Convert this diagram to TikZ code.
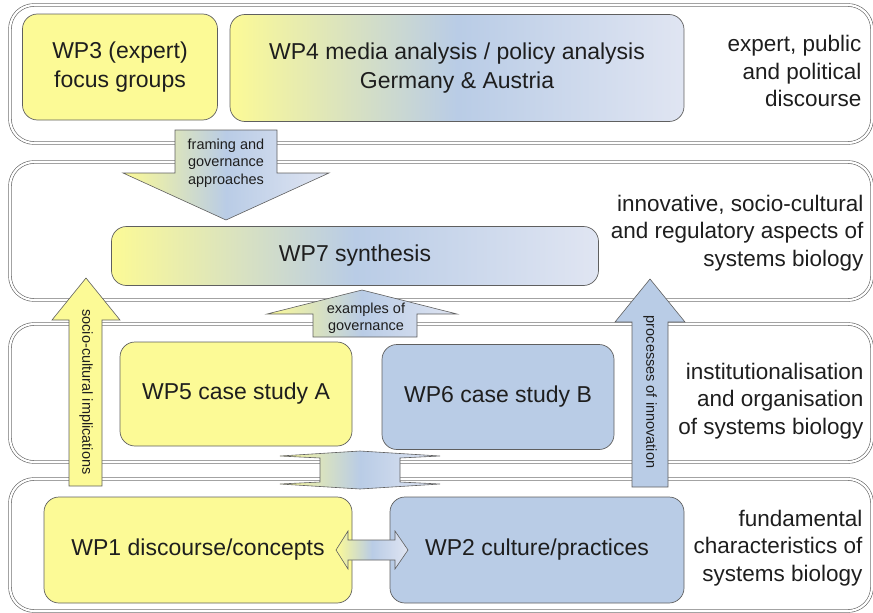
\documentclass[tikz,border=0pt]{standalone}
\usepackage{fontspec}
\setmainfont{Liberation Sans}
\usetikzlibrary{positioning}
\definecolor{wpyellow}{RGB}{252,250,150}
\definecolor{wpblue}{RGB}{185,204,230}
\definecolor{wplight}{RGB}{224,229,242}
\definecolor{wpline}{RGB}{95,95,95}
\definecolor{wptext}{RGB}{30,30,30}
\pgfdeclarehorizontalshading{wpfade}{100bp}{color(0bp)=(wpyellow); color(25bp)=(wpyellow);
  color(50bp)=(wpblue); color(75bp)=(wplight); color(100bp)=(wplight)}
\tikzset{
    %Define style for the layers
    layer/.style={
           rectangle,
           rounded corners=24pt,
           draw=wpline, line width=0.6pt,
           double=white, double distance=2.2pt},
    %Define style for boxes
    wpbox/.style={
           rectangle,
           rounded corners=15pt,
           draw=wpline, line width=0.7pt,
           text=wptext,
           align=center,
           font=\fontsize{23}{29}\selectfont},
    fadebox/.style={wpbox, shade, shading=wpfade},
    % layer captions on the right
    layertext/.style={
           anchor=east,
           align=right,
           text=wptext,
           font=\fontsize{22.5}{27.5}\selectfont},
    % Define block arrow style
    pil/.style={
           draw=wpline, line width=0.6pt},
    piltext/.style={
           align=center,
           text=wptext,
           inner sep=0pt,
           font=\fontsize{14.5}{17.5}\selectfont}
}
\begin{document}
\begin{tikzpicture}[x=1pt,y=-1pt]
\useasboundingbox (0,0) rectangle (873,613);
% layers
\node[layer, minimum width=862, minimum height=138] (layer1) at (441,74) {};
\node[layer, minimum width=862, minimum height=138] (layer2) at (441,231) {};
\node[layer, minimum width=862, minimum height=138] (layer3) at (441,393) {};
\node[layer, minimum width=862, minimum height=132] (layer4) at (441,545) {};
% layer captions
\node[layertext] (lab1) at (865,71) {expert, public\\and political\\discourse};
\node[layertext] (lab2) at (867,233) {innovative, socio-cultural\\and regulatory aspects of\\systems biology};
\node[layertext] (lab3) at (867,401) {institutionalisation\\and organisation\\of systems biology};
\node[layertext] (lab4) at (866,548) {fundamental\\characteristics of\\systems biology};
% work packages
\node[wpbox, fill=wpyellow, minimum width=195, minimum height=106] (wp3) at (120,67) {WP3 (expert)\\focus groups};
\node[fadebox, minimum width=454, minimum height=107] (wp4) at (457,68) {WP4 media analysis / policy analysis\\Germany \& Austria};
\node[fadebox, minimum width=487, minimum height=59] (wp7) at (355,256) {WP7 synthesis};
\node[wpbox, fill=wpyellow, minimum width=232, minimum height=104] (wp5) at (236,394) {WP5 case study A};
\node[wpbox, fill=wpblue, minimum width=232, minimum height=105] (wp6) at (498,397) {WP6 case study B};
\node[wpbox, fill=wpyellow, minimum width=308, minimum height=106] (wp1) at (198,550) {WP1 discourse/concepts};
\node[wpbox, fill=wpblue, minimum width=294, minimum height=106] (wp2) at (537,550) {WP2 culture/practices};
% block arrows
\shade[pil, shading=wpfade] (175,130) -- (277,130) -- (277,173) -- (329,173) -- (226,220)
  -- (123,173) -- (175,173) -- cycle;
\node[piltext] (framing) at (226,163) {framing and\\governance\\approaches};
\shade[pil, shading=wpfade] (313,337) -- (313,314) -- (267,314) -- (362,290) -- (457,314)
  -- (417,314) -- (417,337) -- cycle;
\node[piltext] (examples) at (366,318) {examples of\\governance};
\filldraw[pil, fill=wpyellow] (69,486) -- (69,320) -- (52,320) -- (86,278) -- (120,320)
  -- (102,320) -- (102,486) -- cycle;
\node[piltext, rotate=-90] (socio) at (86,392) {socio-cultural implications};
\filldraw[pil, fill=wpblue] (632,487) -- (632,322) -- (615,322) -- (650,279) -- (685,322)
  -- (668,322) -- (668,487) -- cycle;
\node[piltext, rotate=-90] (innov) at (650,392) {processes of innovation};
\shade[pil, shading=wpfade] (320,458) -- (280,456) -- (360,451) -- (440,456) -- (400,458)
  -- (400,482) -- (440,484) -- (360,489) -- (280,484) -- (320,482) -- cycle;
\shade[pil, shading=wpfade] (336,550) -- (348,531) -- (348,540) -- (395,540) -- (395,531)
  -- (408,550) -- (395,569) -- (395,560) -- (348,560) -- (348,569) -- cycle;
\end{tikzpicture}
\end{document}
